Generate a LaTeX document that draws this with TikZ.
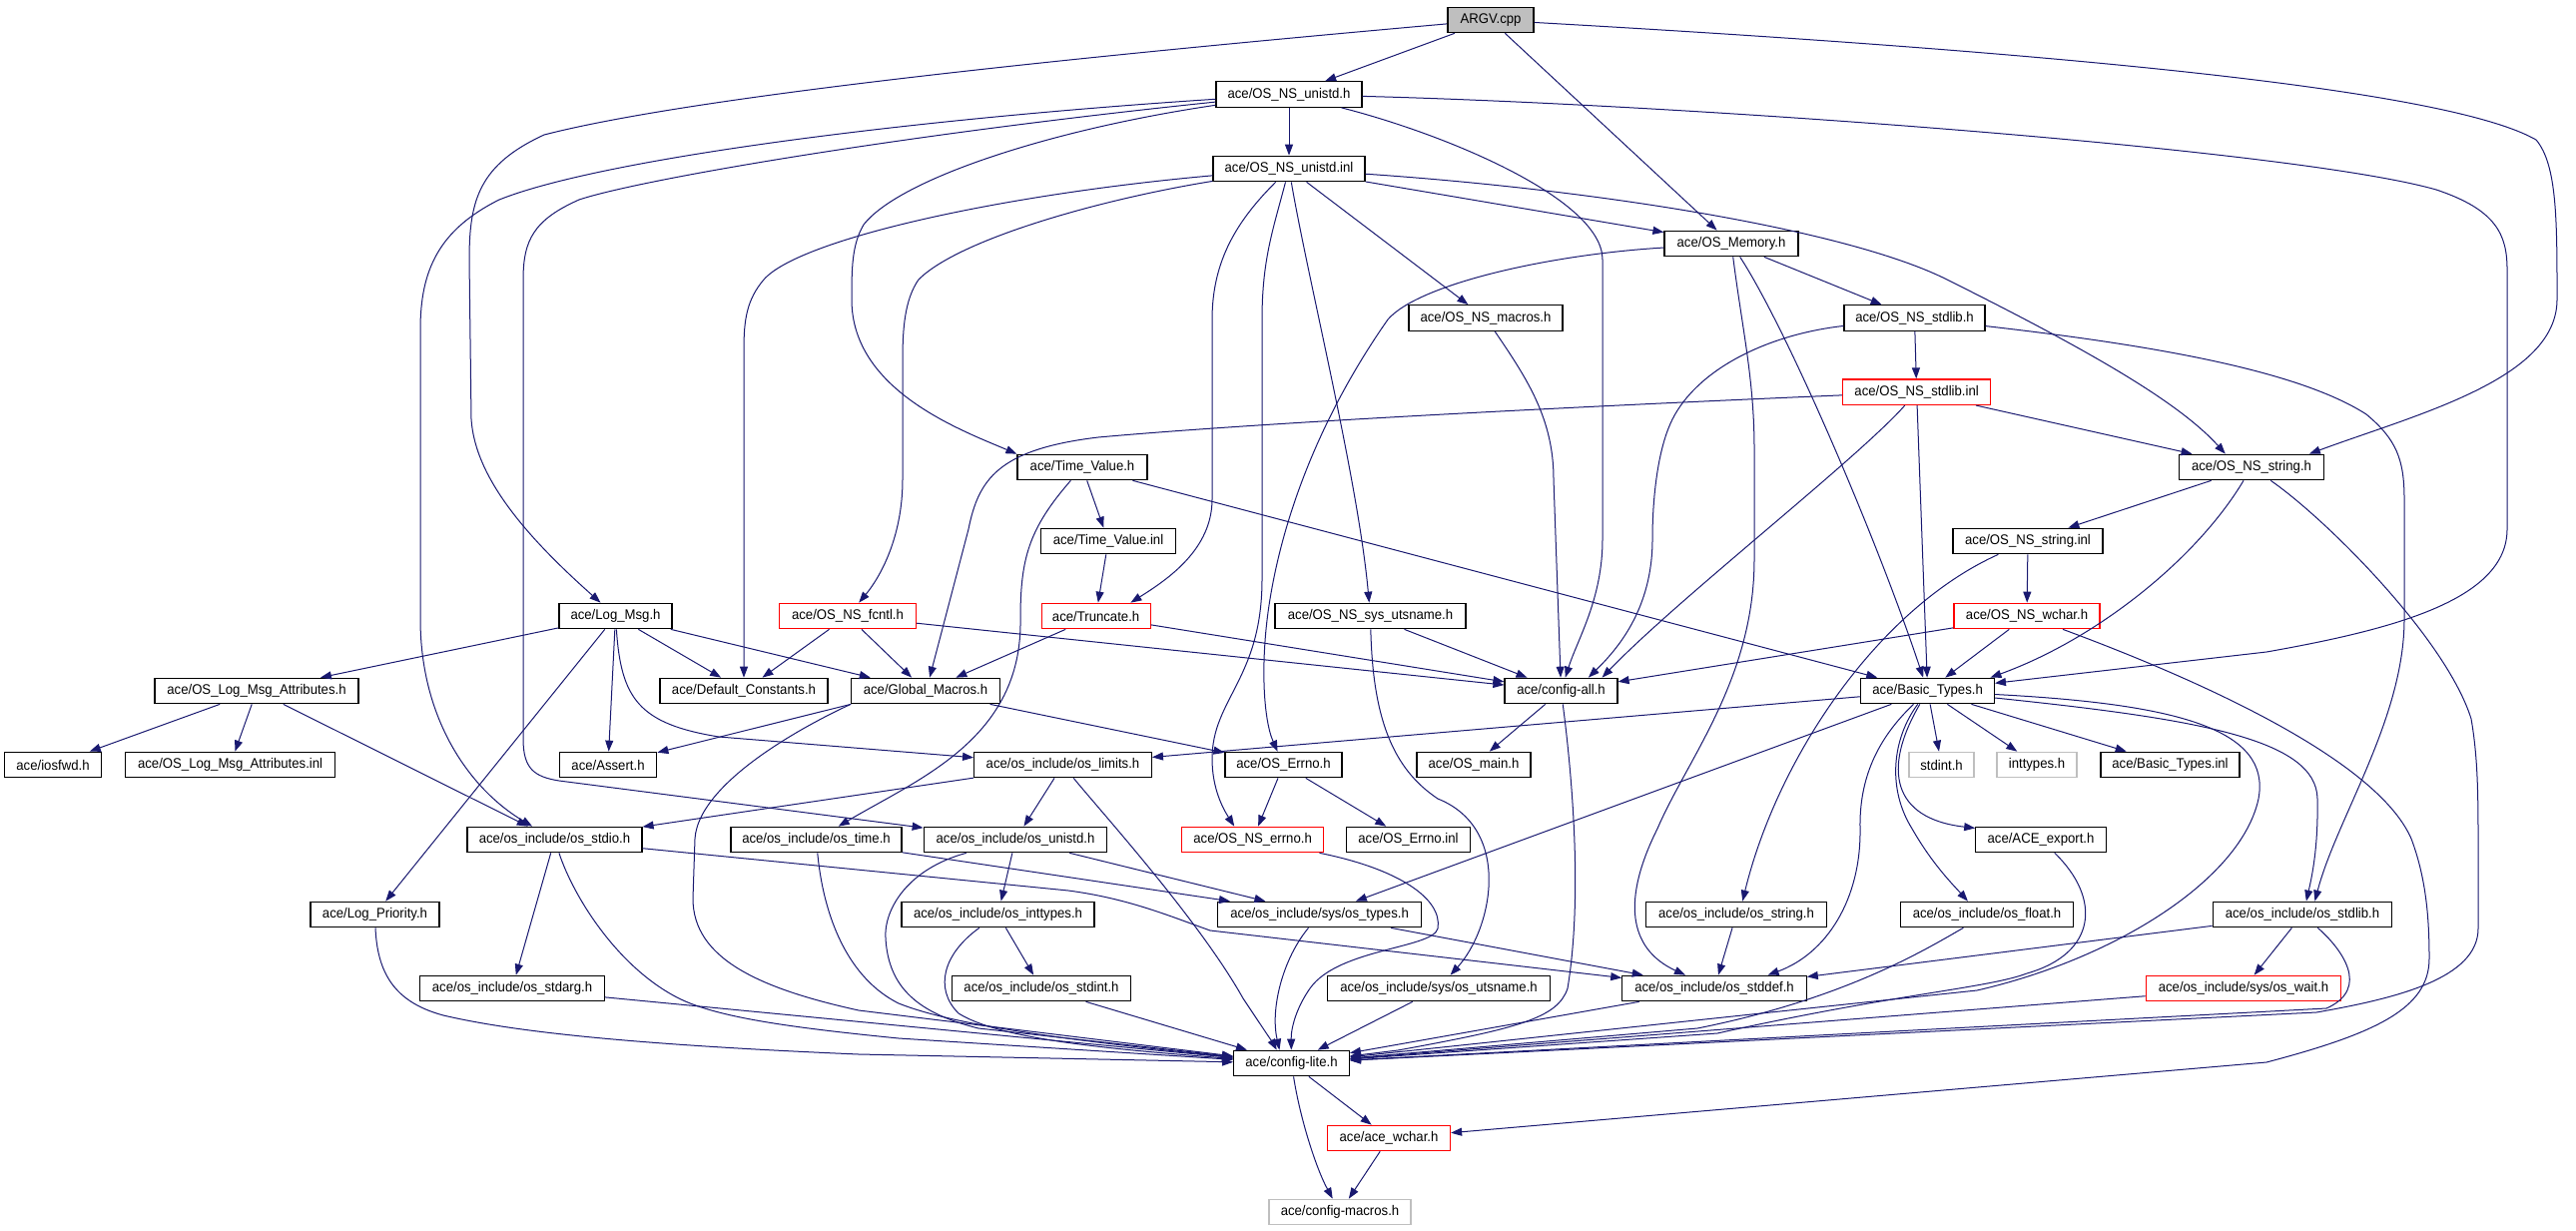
\documentclass[tikz,border=0pt]{standalone}
\usepackage{fontspec}
\setmainfont{Liberation Sans}[FakeStretch=0.94]
\usetikzlibrary{arrows.meta}
\definecolor{edgeblue}{HTML}{191970}
\definecolor{lightg}{HTML}{BFBFBF}
\tikzset{
  nd/.style={draw=black, line width=1.2pt, rectangle, minimum height=25.5pt, inner sep=0pt, font=\fontsize{14}{16}\selectfont},
  rednd/.style={nd, draw=red},
  graynd/.style={nd, draw=lightg},
  lk/.style={draw=edgeblue, line width=1pt, -{Triangle[length=11pt,width=8pt]}}
}
\begin{document}
\begin{tikzpicture}[x=1pt, y=-1pt]
\fill[white] (0,0) rectangle (2580,1232);
\useasboundingbox (0,0) rectangle (2580,1232);
% nodes
\node[nd, fill=lightg, minimum width=86pt] (argv) at (1493,20) {ARGV.cpp};
\node[nd, minimum width=146pt] (unistdh) at (1291,94.5) {ace/OS\_NS\_unistd.h};
\node[nd, minimum width=152pt] (unistdinl) at (1291,169) {ace/OS\_NS\_unistd.inl};
\node[nd, minimum width=134pt] (memory) at (1734,244) {ace/OS\_Memory.h};
\node[nd, minimum width=154pt] (macros) at (1488,318.5) {ace/OS\_NS\_macros.h};
\node[nd, minimum width=141pt] (stdlibh) at (1917.5,318.5) {ace/OS\_NS\_stdlib.h};
\node[rednd, minimum width=148pt] (stdlibinl) at (1919.6,392.7) {ace/OS\_NS\_stdlib.inl};
\node[nd, minimum width=130pt] (timevalh) at (1084,468) {ace/Time\_Value.h};
\node[nd, minimum width=145pt] (stringh) at (2255,468) {ace/OS\_NS\_string.h};
\node[nd, minimum width=135pt] (timevalinl) at (1110,542) {ace/Time\_Value.inl};
\node[nd, minimum width=150pt] (stringinl) at (2031,542) {ace/OS\_NS\_string.inl};
\node[nd, minimum width=113pt] (logmsg) at (616.5,617) {ace/Log\_Msg.h};
\node[rednd, minimum width=137pt] (fcntl) at (849,617) {ace/OS\_NS\_fcntl.h};
\node[rednd, minimum width=109pt] (truncate) at (1097.6,617) {ace/Truncate.h};
\node[nd, minimum width=191pt] (sysuts) at (1372.5,617) {ace/OS\_NS\_sys\_utsname.h};
\node[rednd, minimum width=146pt] (wchar) at (2030,617) {ace/OS\_NS\_wchar.h};
\node[nd, minimum width=204pt] (logattr) at (257,692) {ace/OS\_Log\_Msg\_Attributes.h};
\node[nd, minimum width=168pt] (defconst) at (745,692) {ace/Default\_Constants.h};
\node[nd, minimum width=148.5pt] (globmac) at (927,692) {ace/Global\_Macros.h};
\node[nd, minimum width=113pt] (configall) at (1563.5,692) {ace/config-all.h};
\node[nd, minimum width=133.5pt] (basic) at (1930.6,692) {ace/Basic\_Types.h};
\node[nd, minimum width=96.5pt] (iosfwd) at (53,766) {ace/iosfwd.h};
\node[nd, minimum width=210pt] (logattrinl) at (230.6,766) {ace/OS\_Log\_Msg\_Attributes.inl};
\node[nd, minimum width=97.6pt] (assert) at (609,766) {ace/Assert.h};
\node[nd, minimum width=177.7pt] (limits) at (1064.5,766) {ace/os\_include/os\_limits.h};
\node[nd, minimum width=117pt] (errnoh) at (1285.5,766) {ace/OS\_Errno.h};
\node[nd, minimum width=114pt] (mainh) at (1476,766) {ace/OS\_main.h};
\node[graynd, minimum width=65pt] (stdinth) at (1944.5,766) {stdint.h};
\node[graynd, minimum width=80pt] (inttypesh) at (2040,766) {inttypes.h};
\node[nd, minimum width=139pt] (basicinl) at (2173.5,766) {ace/Basic\_Types.inl};
\node[nd, minimum width=175pt] (stdio) at (555.5,841) {ace/os\_include/os\_stdio.h};
\node[nd, minimum width=171pt] (timeh) at (817.5,841) {ace/os\_include/os\_time.h};
\node[nd, minimum width=183.5pt] (unistd) at (1017,841) {ace/os\_include/os\_unistd.h};
\node[rednd, minimum width=142pt] (nserrno) at (1254.6,841) {ace/OS\_NS\_errno.h};
\node[nd, minimum width=124.7pt] (errnoinl) at (1410.5,841) {ace/OS\_Errno.inl};
\node[nd, minimum width=130.4pt] (export) at (2044,841) {ace/ACE\_export.h};
\node[nd, minimum width=129pt] (logprio) at (375.5,916) {ace/Log\_Priority.h};
\node[nd, minimum width=193pt] (inttypes) at (999.5,916) {ace/os\_include/os\_inttypes.h};
\node[nd, minimum width=203.5pt] (systypes) at (1321.6,916) {ace/os\_include/sys/os\_types.h};
\node[nd, minimum width=181pt] (osstring) at (1739,916) {ace/os\_include/os\_string.h};
\node[nd, minimum width=173.5pt] (float) at (1990,916) {ace/os\_include/os\_float.h};
\node[nd, minimum width=179.5pt] (osstdlib) at (2306,916) {ace/os\_include/os\_stdlib.h};
\node[nd, minimum width=184.5pt] (stdarg) at (513,990) {ace/os\_include/os\_stdarg.h};
\node[nd, minimum width=179.6pt] (stdint) at (1043,990) {ace/os\_include/os\_stdint.h};
\node[nd, minimum width=223pt] (sysuts2) at (1441,990) {ace/os\_include/sys/os\_utsname.h};
\node[nd, minimum width=184.4pt] (stddef) at (1717,990) {ace/os\_include/os\_stddef.h};
\node[rednd, minimum width=195.7pt] (wait) at (2247,990) {ace/os\_include/sys/os\_wait.h};
\node[nd, minimum width=115.7pt] (lite) at (1293.5,1065) {ace/config-lite.h};
\node[rednd, minimum width=123pt] (acewchar) at (1391,1140) {ace/ace\_wchar.h};
\node[graynd, minimum width=142pt] (macrosh) at (1342,1214) {ace/config-macros.h};
% ARGV.cpp
\draw[lk] (argv) -- (unistdh);
\draw[lk] (argv) -- (memory);
\draw[lk] (argv) .. controls (2200,60) and (2470,100) .. (2540,140) .. controls (2561,165) and (2561,220) .. (2561,300) .. controls (2561,380) and (2420,415) .. (stringh.13);
\draw[lk] (argv) .. controls (1100,55) and (700,95) .. (545,135) .. controls (480,165) and (470,200) .. (470,260) -- (472,420) .. controls (476,480) and (530,540) .. (logmsg);
% OS_NS_unistd.h
\draw[lk] (unistdh) -- (unistdinl);
\draw[lk] (unistdh) .. controls (1700,105) and (2300,150) .. (2440,190) .. controls (2500,210) and (2511,235) .. (2511,270) -- (2511,530) .. controls (2511,600) and (2400,630) .. (2270,653) -- (basic);
\draw[lk] (unistdh) .. controls (1450,135) and (1605,200) .. (1605,260) -- (1605,540) .. controls (1605,600) and (1580,640) .. (configall);
\draw[lk] (unistdh) .. controls (900,120) and (600,160) .. (500,200) .. controls (440,230) and (421,270) .. (421,330) -- (421,620) .. controls (421,720) and (470,790) .. (stdio);
\draw[lk] (unistdh) .. controls (900,135) and (640,180) .. (580,200) .. controls (535,220) and (524,240) .. (524,280) -- (524,740) .. controls (524,770) and (535,778) .. (560,782) -- (unistd);
\draw[lk] (unistdh) .. controls (1050,130) and (900,180) .. (865,225) .. controls (853,245) and (853,270) .. (853,300) .. controls (853,390) and (960,430) .. (timevalh.north west);
% OS_NS_unistd.inl
\draw[lk] (unistdinl) .. controls (1000,195) and (800,240) .. (765,280) .. controls (748,300) and (745,320) .. (745,350) -- (defconst);
\draw[lk] (unistdinl) .. controls (1100,200) and (960,240) .. (920,280) .. controls (906,300) and (904,330) .. (904,360) -- (904,480) .. controls (904,540) and (880,580) .. (fcntl);
\draw[lk] (unistdinl) .. controls (1240,220) and (1214,260) .. (1214,320) -- (1214,500) .. controls (1214,550) and (1170,580) .. (truncate.21);
\draw[lk] (unistdinl) .. controls (1275,230) and (1264,260) .. (1264,320) -- (1264,580) .. controls (1264,680) and (1214,700) .. (1214,760) .. controls (1214,790) and (1225,810) .. (nserrno.144);
\draw[lk] (unistdinl) .. controls (1310,280) and (1360,480) .. (sysuts);
\draw[lk] (unistdinl) -- (macros);
\draw[lk] (unistdinl) -- (memory);
\draw[lk] (unistdinl) .. controls (1600,190) and (1850,230) .. (1950,280) .. controls (2080,345) and (2180,400) .. (stringh.153);
% OS_Memory.h
\draw[lk] (memory) -- (stdlibh);
\draw[lk] (memory) .. controls (1550,255) and (1420,285) .. (1390,320) .. controls (1320,420) and (1285,520) .. (1272,600) .. controls (1262,660) and (1265,720) .. (errnoh);
\draw[lk] (memory) .. controls (1790,330) and (1880,540) .. (basic);
\draw[lk] (memory) .. controls (1745,330) and (1757,380) .. (1757,450) -- (1757,560) .. controls (1757,680) and (1690,760) .. (1660,830) .. controls (1625,900) and (1630,950) .. (stddef);
% OS_NS_macros.h
\draw[lk] (macros) .. controls (1530,380) and (1556,420) .. (1556,480) -- (configall);
% OS_NS_stdlib.h
\draw[lk] (stdlibh) -- (stdlibinl);
\draw[lk] (stdlibh) .. controls (1770,335) and (1700,370) .. (1675,420) .. controls (1660,450) and (1655,500) .. (1655,540) .. controls (1655,610) and (1620,650) .. (configall.26);
\draw[lk] (stdlibh) .. controls (2150,345) and (2300,370) .. (2370,415) .. controls (2400,440) and (2408,460) .. (2408,500) -- (2408,620) .. controls (2408,720) and (2340,820) .. (osstdlib.47);
% OS_NS_stdlib.inl
\draw[lk] (stdlibinl) .. controls (1860,460) and (1680,600) .. (configall.18);
\draw[lk] (stdlibinl) .. controls (1700,402) and (1300,420) .. (1100,438) .. controls (1000,450) and (980,480) .. (970,530) -- (globmac.73);
\draw[lk] (stdlibinl) -- (basic);
\draw[lk] (stdlibinl) -- (stringh);
% OS_NS_string.h
\draw[lk] (stringh) -- (stringinl);
\draw[lk] (stringh) .. controls (2200,560) and (2100,640) .. (basic.12);
\draw[lk] (stringh) .. controls (2330,520) and (2450,640) .. (2475,720) .. controls (2482,760) and (2482,800) .. (2482,850) -- (2482,930) .. controls (2482,980) and (2400,1000) .. (2320,1014) -- (lite);
% OS_NS_string.inl
\draw[lk] (stringinl) -- (wchar);
\draw[lk] (stringinl) .. controls (1880,610) and (1780,760) .. (osstring.65);
% OS_NS_wchar.h
\draw[lk] (wchar) -- (configall);
\draw[lk] (wchar) -- (basic);
\draw[lk] (wchar) .. controls (2200,680) and (2380,760) .. (2415,840) .. controls (2430,880) and (2433,920) .. (2433,960) .. controls (2433,1010) and (2380,1035) .. (2270,1064) -- (acewchar);
% Time_Value
\draw[lk] (timevalh) -- (timevalinl);
\draw[lk] (timevalh) -- (basic);
\draw[lk] (timevalh) .. controls (1030,530) and (1022,560) .. (1022,620) .. controls (1024,740) and (920,780) .. (timeh.31);
\draw[lk] (timevalinl) -- (truncate);
% Log_Msg.h
\draw[lk] (logmsg) -- (logattr);
\draw[lk] (logmsg) -- (defconst);
\draw[lk] (logmsg) -- (globmac);
\draw[lk] (logmsg) -- (assert);
\draw[lk] (logmsg) .. controls (622,700) and (640,725) .. (720,738) -- (limits);
\draw[lk] (logmsg) -- (logprio);
% OS_Log_Msg_Attributes.h
\draw[lk] (logattr) -- (iosfwd);
\draw[lk] (logattr) -- (logattrinl);
\draw[lk] (logattr) -- (stdio);
% OS_NS_fcntl.h, Truncate.h, OS_NS_sys_utsname.h
\draw[lk] (fcntl) -- (defconst);
\draw[lk] (fcntl) -- (globmac);
\draw[lk] (fcntl) -- (configall);
\draw[lk] (truncate) -- (globmac);
\draw[lk] (truncate) -- (configall);
\draw[lk] (sysuts) -- (configall);
\draw[lk] (sysuts) .. controls (1375,720) and (1395,770) .. (1440,800) .. controls (1515,830) and (1495,930) .. (sysuts2.49);
% Global_Macros.h
\draw[lk] (globmac.south west) -- (assert);
\draw[lk] (globmac) -- (errnoh);
\draw[lk] (globmac.south west) .. controls (820,720) and (700,780) .. (696,840) -- (694,900) .. controls (694,960) and (760,990) .. (860,1012) -- (lite);
% os_limits.h
\draw[lk] (limits) -- (stdio);
\draw[lk] (limits) -- (unistd);
\draw[lk] (limits) .. controls (1100,810) and (1200,920) .. (1245,1000) .. controls (1265,1030) and (1275,1045) .. (lite.138);
% OS_Errno.h
\draw[lk] (errnoh) -- (nserrno);
\draw[lk] (errnoh) -- (errnoinl);
% config-all.h
\draw[lk] (configall) -- (mainh);
\draw[lk] (configall) .. controls (1575,780) and (1585,900) .. (1570,990) .. controls (1560,1020) and (1520,1030) .. (1400,1052) -- (lite);
% Basic_Types.h
\draw[lk] (basic) -- (stdinth);
\draw[lk] (basic) -- (inttypesh);
\draw[lk] (basic) -- (basicinl);
\draw[lk] (basic) -- (limits);
\draw[lk] (basic) -- (systypes);
\draw[lk] (basic) .. controls (1885,770) and (1895,820) .. (export.170);
\draw[lk] (basic) .. controls (1895,740) and (1890,790) .. (1915,830) .. controls (1935,865) and (1955,885) .. (float.145);
\draw[lk] (basic) .. controls (1880,740) and (1862,780) .. (1863,830) .. controls (1864,900) and (1830,955) .. (stddef.14);
\draw[lk] (basic) .. controls (2180,705) and (2275,730) .. (2262,800) .. controls (2245,880) and (2120,960) .. (1980,992) -- (lite);
\draw[lk] (basic) .. controls (2200,720) and (2320,740) .. (2321,800) .. controls (2322,850) and (2315,880) .. (osstdlib.74);
% lower include files
\draw[lk] (osstring) -- (stddef);
\draw[lk] (float) .. controls (1930,950) and (1850,1000) .. (1700,1030) -- (lite);
\draw[lk] (export) .. controls (2105,900) and (2100,955) .. (2030,975) .. controls (1990,990) and (1900,995) .. (1720,1035) -- (lite);
\draw[lk] (osstdlib) -- (stddef);
\draw[lk] (osstdlib) -- (wait);
\draw[lk] (osstdlib) .. controls (2345,950) and (2375,990) .. (2330,1010) -- (lite);
\draw[lk] (wait) -- (lite);
\draw[lk] (stdio) -- (stdarg);
\draw[lk] (stdio) .. controls (575,900) and (620,970) .. (680,1000) .. controls (720,1020) and (800,1030) .. (900,1040) -- (lite);
\draw[lk] (stdio) -- (1070,892) .. controls (1130,900) and (1170,917) .. (1212,932) -- (stddef);
\draw[lk] (logprio) .. controls (378,980) and (400,1005) .. (444,1017) .. controls (500,1030) and (600,1045) .. (860,1056) -- (lite);
\draw[lk] (stdarg) -- (lite);
\draw[lk] (timeh) .. controls (825,920) and (850,980) .. (900,1005) .. controls (950,1025) and (1050,1040) .. (lite);
\draw[lk] (timeh) -- (systypes);
\draw[lk] (unistd) -- (inttypes);
\draw[lk] (unistd) -- (systypes);
\draw[lk] (unistd) .. controls (910,870) and (885,910) .. (887,940) .. controls (890,990) and (920,1015) .. (980,1030) -- (lite);
\draw[lk] (inttypes) -- (stdint);
\draw[lk] (inttypes) .. controls (945,955) and (935,990) .. (960,1015) .. controls (1000,1040) and (1100,1050) .. (lite);
\draw[lk] (stdint) -- (lite);
\draw[lk] (systypes) .. controls (1285,960) and (1272,1010) .. (lite.132);
\draw[lk] (systypes) -- (stddef);
\draw[lk] (nserrno) .. controls (1400,870) and (1445,900) .. (1440,930) .. controls (1435,950) and (1340,950) .. (1312,990) .. controls (1298,1010) and (1293,1030) .. (lite);
\draw[lk] (sysuts2) -- (lite);
\draw[lk] (stddef) -- (lite);
% config-lite.h
\draw[lk] (lite) -- (acewchar);
\draw[lk] (lite) .. controls (1302,1120) and (1318,1170) .. (macrosh);
\draw[lk] (acewchar) -- (macrosh);
\end{tikzpicture}
\end{document}
